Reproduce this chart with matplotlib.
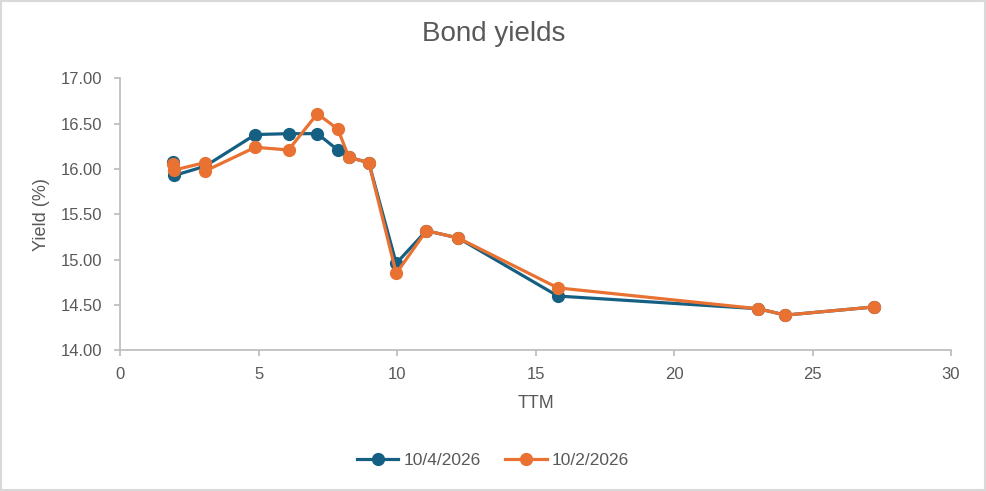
import matplotlib
matplotlib.use("Agg")
import matplotlib.pyplot as plt
from matplotlib.patches import Rectangle

plt.rcParams["font.family"] = ["Liberation Sans", "DejaVu Sans"]

# Data
ttm_apr = [1.89, 1.95, 3.05, 4.87, 6.07, 7.11, 7.85, 8.25, 8.97, 9.96,
           11.05, 12.2, 15.8, 23.04, 24.02, 27.23]
yield_apr = [16.08, 15.93, 16.03, 16.38, 16.39, 16.39, 16.21, 16.13, 16.07, 14.96,
             15.32, 15.24, 14.60, 14.46, 14.39, 14.48]

ttm_feb = [1.89, 1.95, 3.04, 3.07, 4.87, 6.07, 7.11, 7.85, 8.25, 8.97, 9.96,
           11.05, 12.2, 15.8, 23.04, 24.02, 27.23]
yield_feb = [16.05, 15.99, 16.07, 15.98, 16.24, 16.21, 16.61, 16.44, 16.13, 16.07, 14.85,
             15.32, 15.24, 14.69, 14.46, 14.39, 14.48]

labels = ["10/4/2026", "10/2/2026"]
x_ticks = [0, 5, 10, 15, 20, 25, 30]
y_ticks = [14.0, 14.5, 15.0, 15.5, 16.0, 16.5, 17.0]

blue = "#156082"
orange = "#E97132"
grey_txt = "#595959"
grey_ax = "#BFBFBF"

fig = plt.figure(figsize=(9.86, 4.91), dpi=100)
ax = fig.add_axes([0.1222, 0.2862, 0.9645 - 0.1222, 0.8405 - 0.2862])

ax.plot(ttm_apr, yield_apr, color=blue, lw=2.3, marker="o", ms=8.5, label=labels[0])
ax.plot(ttm_feb, yield_feb, color=orange, lw=2.3, marker="o", ms=8.5, label=labels[1])

ax.set_xlim(0, 30)
ax.set_ylim(14, 17)
ax.set_xticks(x_ticks)
ax.set_yticks(y_ticks)
ax.set_yticklabels([f"{v:.2f}" for v in y_ticks])

for s in ["top", "right"]:
    ax.spines[s].set_visible(False)
for s in ["left", "bottom"]:
    ax.spines[s].set_color(grey_ax)
    ax.spines[s].set_linewidth(1.3)

ax.tick_params(axis="both", colors=grey_ax, labelcolor=grey_txt, labelsize=12,
               length=4, width=1.3)
ax.tick_params(axis="x", pad=8)
ax.tick_params(axis="y", pad=9)

ax.set_xlabel("TTM", fontsize=13, color=grey_txt, va="center")
ax.xaxis.set_label_coords(0.5, -0.1965)
ax.set_ylabel("Yield (%)", fontsize=13, color=grey_txt, va="center")
ax.yaxis.set_label_coords(-0.0949, 0.5)

fig.text(0.5005, 0.931, "Bond yields", fontsize=20, color=grey_txt,
         ha="center", va="center")

leg = fig.legend(loc="center", bbox_to_anchor=(0.5, 0.063), ncol=2, frameon=False,
                 fontsize=12.5, handlelength=2.4, handletextpad=0.3, columnspacing=1.4)
for t in leg.get_texts():
    t.set_color(grey_txt)

# chart area border
fig.patches.append(Rectangle((0.001, 0.002), 0.998, 0.996, transform=fig.transFigure,
                             fill=False, edgecolor="#D9D9D9", lw=1.5))

fig.savefig("out.png", dpi=100)
